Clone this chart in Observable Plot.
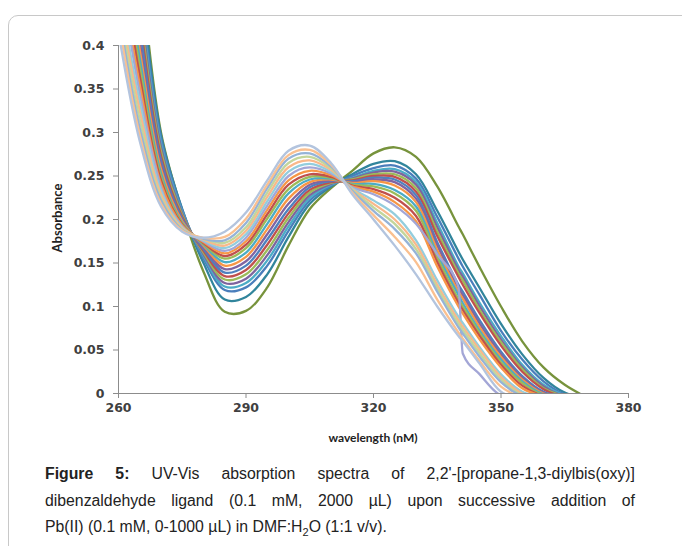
<!DOCTYPE html>
<html><head><meta charset="utf-8">
<script src="https://cdn.jsdelivr.net/npm/d3@7"></script>
<script src="https://cdn.jsdelivr.net/npm/@observablehq/plot@0.6"></script>
<style>
html,body{margin:0;padding:0;background:#fff;width:682px;height:546px;overflow:hidden;position:relative;font-family:Lato,sans-serif}
#frame{position:absolute;left:8px;top:15px;width:720px;height:600px;border:1px solid #c8c8c8;border-radius:10px;box-sizing:border-box}
#chart{position:absolute;left:0;top:0}
.ylab{position:absolute;left:57px;top:218px;transform:translate(-50%,-50%) rotate(-90deg);font-weight:bold;font-size:13px;white-space:nowrap;color:#222}
.xlab{position:absolute;left:373px;top:437px;transform:translate(-50%,-50%);font-weight:bold;font-size:12px;white-space:nowrap;color:#222}
#caption{position:absolute;left:45px;top:461px;width:590px;font-family:"Liberation Sans",Arial,sans-serif;font-size:15.8px;line-height:26.5px;color:#222}
.jl{text-align:justify;text-align-last:justify;white-space:nowrap}
</style>
</head><body>
<div id="frame"></div>
<div id="chart"></div>
<div class="ylab">Absorbance</div>
<div class="xlab">wavelength (nM)</div>
<div id="caption">
<div class="jl"><b>Figure 5:</b> UV-Vis absorption spectra of 2,2'-[propane-1,3-diylbis(oxy)]</div>
<div class="jl">dibenzaldehyde ligand (0.1 mM, 2000 µL) upon successive addition of</div>
<div>Pb(II) (0.1 mM, 0-1000 µL) in DMF:H<sub style="font-size:11px">2</sub>O (1:1 v/v).</div>
</div>
<script>
// wavelength grid (nm)
const wavelengths = [260,265,270,275,280,285,290,295,300,305,310,315,320,325,330,335,340,341,345,350,355,360,365,370];
// absorbance per Pb(II) addition (µL)
const v0    = [0.75,0.50,0.300,0.210,0.140,0.094,0.095,0.122,0.170,0.212,0.236,0.256,0.276,0.283,0.272,0.238,0.192,0.183,0.145,0.100,0.060,0.030,0.010,-0.004];
const v50   = [0.72,0.485,0.297,0.212,0.150,0.108,0.111,0.137,0.180,0.218,0.238,0.252,0.264,0.267,0.252,0.210,0.163,0.154,0.121,0.080,0.045,0.018,0.001,-0.005];
const v100  = [0.70,0.47,0.293,0.211,0.155,0.119,0.122,0.147,0.187,0.222,0.239,0.250,0.259,0.262,0.247,0.203,0.155,0.146,0.113,0.072,0.039,0.014,-0.001,-0.005];
const v150  = [0.68,0.46,0.288,0.209,0.158,0.123,0.127,0.153,0.192,0.225,0.240,0.248,0.256,0.258,0.243,0.196,0.146,0.138,0.104,0.066,0.033,0.010,-0.002,-0.005];
const v200  = [0.66,0.45,0.283,0.207,0.160,0.127,0.132,0.159,0.197,0.228,0.241,0.247,0.254,0.255,0.240,0.191,0.142,0.134,0.100,0.062,0.030,0.008,-0.003,-0.005];
const v250  = [0.64,0.44,0.278,0.205,0.162,0.131,0.137,0.165,0.202,0.231,0.242,0.246,0.252,0.252,0.236,0.186,0.138,0.130,0.096,0.059,0.028,0.006,-0.003,-0.005];
const v300  = [0.62,0.43,0.273,0.203,0.164,0.135,0.142,0.171,0.207,0.234,0.243,0.245,0.250,0.249,0.232,0.181,0.134,0.125,0.092,0.055,0.025,0.005,-0.004,-0.005];
const v350  = [0.60,0.42,0.268,0.201,0.166,0.139,0.147,0.177,0.212,0.237,0.244,0.244,0.248,0.246,0.228,0.174,0.125,0.117,0.084,0.048,0.020,0.002,-0.004,-0.005];
const v400  = [0.58,0.405,0.263,0.199,0.168,0.143,0.152,0.183,0.218,0.240,0.245,0.243,0.246,0.243,0.224,0.170,0.121,0.113,0.080,0.045,0.018,0.001,-0.004,-0.005];
const v450  = [0.56,0.395,0.258,0.198,0.170,0.147,0.157,0.189,0.224,0.243,0.246,0.242,0.244,0.239,0.220,0.165,0.117,0.109,0.076,0.042,0.016,0.000,-0.004,-0.005];
const v500  = [0.55,0.385,0.253,0.196,0.171,0.151,0.162,0.195,0.230,0.246,0.247,0.241,0.241,0.234,0.215,0.160,0.113,0.104,0.072,0.039,0.014,-0.001,-0.005,-0.005];
const v550  = [0.53,0.375,0.249,0.195,0.172,0.155,0.167,0.201,0.235,0.249,0.248,0.240,0.238,0.230,0.210,0.156,0.108,0.100,0.069,0.036,0.012,-0.002,-0.005,-0.005];
const v600  = [0.52,0.365,0.245,0.194,0.173,0.158,0.171,0.206,0.240,0.252,0.249,0.239,0.235,0.225,0.204,0.151,0.104,0.096,0.066,0.033,0.009,-0.003,-0.005,-0.005];
const v650  = [0.50,0.355,0.241,0.193,0.174,0.161,0.175,0.211,0.245,0.256,0.251,0.238,0.232,0.220,0.198,0.146,0.100,0.092,0.062,0.030,0.006,-0.003,-0.005,-0.005];
const v700  = [0.49,0.345,0.237,0.192,0.175,0.164,0.179,0.216,0.250,0.260,0.253,0.237,0.229,0.216,0.195,0.160,0.122,0.046,0.022,-0.002,-0.006,-0.006,-0.006,-0.006];
const v750  = [0.47,0.335,0.233,0.191,0.176,0.167,0.183,0.221,0.255,0.264,0.255,0.236,0.222,0.206,0.176,0.130,0.088,0.081,0.053,0.022,0.002,-0.004,-0.005,-0.005];
const v800  = [0.46,0.325,0.229,0.190,0.177,0.170,0.187,0.226,0.260,0.268,0.257,0.235,0.218,0.200,0.171,0.125,0.084,0.077,0.050,0.019,0.000,-0.005,-0.005,-0.005];
const v850  = [0.45,0.315,0.225,0.189,0.178,0.173,0.191,0.231,0.265,0.272,0.259,0.234,0.214,0.195,0.166,0.121,0.080,0.073,0.046,0.016,-0.002,-0.005,-0.005,-0.005];
const v900  = [0.44,0.305,0.222,0.188,0.178,0.176,0.196,0.236,0.270,0.276,0.261,0.233,0.210,0.189,0.161,0.117,0.076,0.069,0.042,0.013,-0.003,-0.005,-0.005,-0.005];
const v950  = [0.43,0.297,0.218,0.187,0.179,0.180,0.201,0.240,0.274,0.280,0.263,0.231,0.205,0.180,0.151,0.108,0.070,0.063,0.037,0.008,-0.004,-0.005,-0.005,-0.005];
const v1000 = [0.415,0.29,0.215,0.186,0.179,0.186,0.208,0.245,0.279,0.285,0.265,0.229,0.200,0.170,0.137,0.100,0.066,0.060,0.034,0.002,-0.006,-0.006,-0.006,-0.006];

const seriesList = [v0,v50,v100,v150,v200,v250,v300,v350,v400,v450,v500,v550,v600,v650,v700,v750,v800,v850,v900,v950,v1000];
const seriesColors = ["#77933C","#31859C","#4A7EBB","#4BACC6","#7E649E","#9BBB59","#C0504D","#4F81BD","#8064A2","#F79646","#4BACC6","#9BBB59","#C0504D","#F79646","#A3A6D6","#93CDDD","#F9B88A","#C3D69B","#95B3D7","#FAC090","#B3C4DE"];
const glitchIndex = 14; // series with the step near 340 nm
const xTicks = [260,290,320,350,380];
const yTicks = [0,0.05,0.1,0.15,0.2,0.25,0.3,0.35,0.4];

const lineMarks = seriesList.map((vals, k) =>
  Plot.line(wavelengths.map((w, i) => ({w, a: vals[i]})), {
    x: "w", y: "a", stroke: seriesColors[k], strokeWidth: 2.3,
    curve: k === glitchIndex ? "monotone-x" : "catmull-rom", clip: true
  })
);

const chart = Plot.plot({
  width: 682, height: 450,
  marginLeft: 118, marginRight: 54, marginTop: 45, marginBottom: 57,
  style: {background: "transparent"},
  x: {domain: [260, 380]},
  y: {domain: [0, 0.4]},
  marks: [
    ...lineMarks,
    Plot.ruleY([0], {stroke: "#8c8c8c", strokeWidth: 1}),
    Plot.ruleX([260], {stroke: "#8c8c8c", strokeWidth: 1}),
    Plot.axisX({ticks: xTicks, tickSize: 5, tickPadding: 5, label: null, stroke: "#8c8c8c", fill: "#404040"}),
    Plot.axisY({ticks: yTicks, tickSize: 5, tickPadding: 9, label: null, stroke: "#8c8c8c", fill: "#404040", tickFormat: d => String(+d.toFixed(2))})
  ]
});
// style the tick labels
d3.select(chart).selectAll("text")
  .style("font-size", "12.5px")
  .style("font-family", "'DejaVu Sans', sans-serif")
  .style("font-weight", "bold");
document.getElementById("chart").appendChild(chart);
</script>
</body></html>
